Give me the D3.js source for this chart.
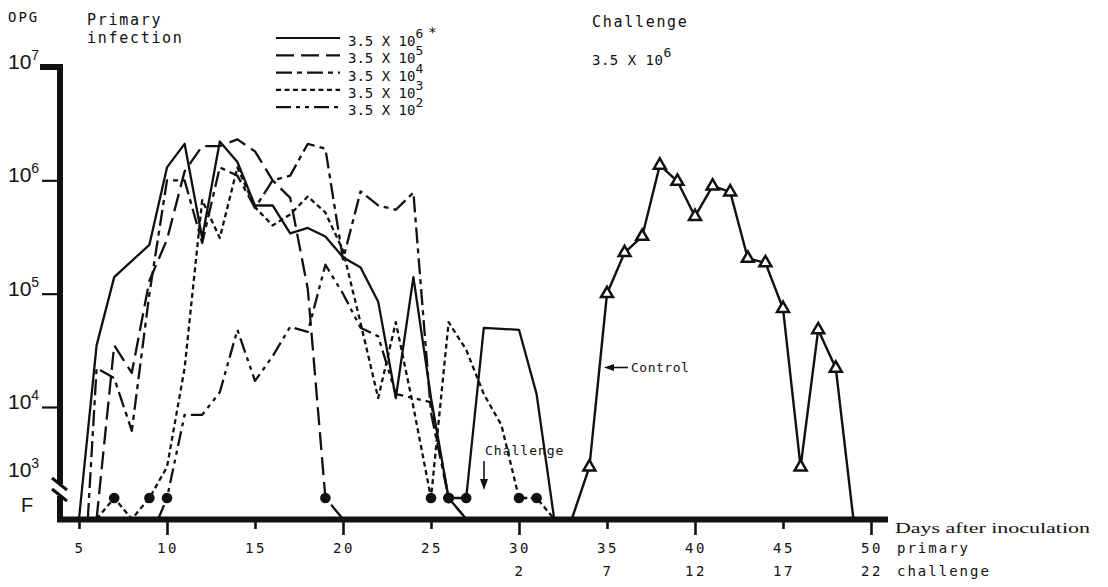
<!DOCTYPE html>
<html><head><meta charset="utf-8">
<script src="https://cdn.jsdelivr.net/npm/d3@7"></script>
<style>
html,body{margin:0;padding:0;background:#fff;}
svg{display:block;}
text{font-family:"DejaVu Sans Mono",monospace;fill:#111;}
</style></head>
<body>
<svg id="c" width="1108" height="587"></svg>
<script>
// ---- data ----
const Z = 1;   // nothing found (baseline)
const F = 10;  // found, below counting level
const primaryTicks = [5,10,15,20,25,30,35,40,45,50];
const challengeTicks = [30,35,40,45,50];
const challengeLabels = ["2","7","12","17","22"];
const yTickVals = [1e7,1e6,1e5,1e4,1e3];
const yTickExp = ["7","6","5","4","3"];
const doseExp = ["6","5","4","3","2"];

const s6Days = [5,6,7,9,10,11,12,13,14,15,16,17,18,19,20,21,22,23,24,25,26,27,28,30,31,32];
const s6Vals = [Z,3.5e4,1.4e5,2.7e5,1.3e6,2.1e6,3.1e5,2.2e6,1.45e6,6e5,6e5,3.4e5,3.8e5,3.2e5,2.1e5,1.7e5,8.5e4,1.2e4,1.4e5,1.2e4,F,F,5e4,4.8e4,1.3e4,Z];

const s5Days = [6,7,8,9,10,11,12,13,14,15,16,17,18,19,20];
const s5Vals = [Z,3.5e4,2e4,1.3e5,3e5,1.2e6,2e6,2e6,2.3e6,1.8e6,1e6,7e5,1.1e5,F,Z];

const s4Days = [5.5,6,7,8,9,10,11,12,13,14,15,16,17,18,19,20,21,22,23,24,25,26,27];
const s4Vals = [Z,2.2e4,1.8e4,4e3,1e5,1e6,1e6,2.8e5,1.3e6,1.1e6,5.7e5,1e6,1.1e6,2.1e6,1.9e6,2e5,8e5,6e5,5.5e5,7.8e5,8e3,F,Z];

const s3Days = [6,7,8,9,10,11,12,13,14,15,16,17,18,19,20,21,22,23,24,25,26,27,28,29,30,31,32];
const s3Vals = [Z,F,Z,F,1e3,2.2e4,6.7e5,3.1e5,1.3e6,5.8e5,4e5,5e5,7.2e5,5.2e5,2.4e5,5.5e4,1.2e4,5.6e4,1e4,F,5.6e4,3.2e4,1.3e4,5e3,F,F,Z];

const s2Days = [9.5,10,11,12,13,14,15,16,17,18,19,20,21,22,23,24,25,26,27];
const s2Vals = [Z,F,7.4e3,7.4e3,1.35e4,4.8e4,1.7e4,2.8e4,5.1e4,4.6e4,1.8e5,1e5,5e4,4.2e4,1.3e4,1.2e4,1.1e4,F,Z];

const ctrlDays = [33,34,35,36,37,38,39,40,41,42,43,44,45,46,47,48,49];
const ctrlVals = [Z,1e3,1e5,2.3e5,3.2e5,1.36e6,9.8e5,4.8e5,8.9e5,7.9e5,2.05e5,1.87e5,7.4e4,1e3,4.8e4,2.2e4,Z];

// ---- drawing ----
const svg = d3.select("#c");
const x = d3.scaleLinear().domain([5,50]).range([79,871]);
const y = d3.scaleLog().domain([Z,F,1e3,1e4,1e7]).range([519,498,467,407,67]);

const styles = [
  {days:s6Days, vals:s6Vals, dash:null},
  {days:s5Days, vals:s5Vals, dash:"18,7"},
  {days:s4Days, vals:s4Vals, dash:"16,5,5,5"},
  {days:s3Days, vals:s3Vals, dash:"5,3.5"},
  {days:s2Days, vals:s2Vals, dash:"15,5,4,5,4,5"}
];

const line = d3.line().x(d=>x(d[0])).y(d=>y(d[1]));

styles.forEach(s=>{
  const pts = s.days.map((d,i)=>[d,s.vals[i]]);
  svg.append("path").attr("d",line(pts)).attr("fill","none")
    .attr("stroke","#111").attr("stroke-width",2.3).attr("stroke-linejoin","round")
    .attr("stroke-dasharray",s.dash);
  pts.filter(p=>p[1]===F).forEach(p=>{
    svg.append("circle").attr("cx",x(p[0])).attr("cy",y(p[1])).attr("r",5.3).attr("fill","#111");
  });
});

// control
const cpts = ctrlDays.map((d,i)=>[d,ctrlVals[i]]);
svg.append("path").attr("d",line(cpts)).attr("fill","none").attr("stroke","#111").attr("stroke-width",2.4);
const tri = d3.symbol().type(d3.symbolTriangle).size(62);
cpts.filter(p=>p[1]>Z).forEach(p=>{
  svg.append("path").attr("d",tri()).attr("transform",`translate(${x(p[0])},${y(p[1])})`)
    .attr("fill","#fff").attr("stroke","#111").attr("stroke-width",2.5);
});

// x axis
const xAxis = d3.axisBottom(x).tickValues(primaryTicks).tickSize(14).tickFormat("");
const gx = svg.append("g").attr("transform","translate(0,519)").call(xAxis);
gx.select(".domain").remove();
gx.selectAll(".tick line").attr("stroke","#111").attr("stroke-width",2.6)
  .attr("y2",d=> d%10===0 ? 16 : 10);
svg.append("line").attr("x1",57).attr("x2",888).attr("y1",519.5).attr("y2",519.5)
  .attr("stroke","#111").attr("stroke-width",6);
primaryTicks.forEach(t=>{
  svg.append("text").attr("x",x(t)+1).attr("y",553).attr("text-anchor","middle")
    .attr("font-size",14).attr("letter-spacing",2.5).text(t);
});
challengeTicks.forEach((t,i)=>{
  svg.append("text").attr("x",x(t)+1).attr("y",576).attr("text-anchor","middle")
    .attr("font-size",14).attr("letter-spacing",2.5).text(challengeLabels[i]);
});
svg.append("text").attr("x",895).attr("y",533).attr("font-size",15)
  .attr("textLength",195).attr("lengthAdjust","spacingAndGlyphs")
  .style("font-family","Liberation Serif, serif").text("Days after inoculation");
svg.append("text").attr("x",897).attr("y",553).attr("font-size",14).attr("letter-spacing",2).text("primary");
svg.append("text").attr("x",897).attr("y",576).attr("font-size",14).attr("letter-spacing",2).text("challenge");

// y axis
svg.append("path").attr("d","M40,67 L60,67 L60,522").attr("fill","none")
  .attr("stroke","#111").attr("stroke-width",6);
const yAxis = d3.axisLeft(y).tickValues([1e6,1e5,1e4]).tickSize(17).tickFormat("");
const gy = svg.append("g").attr("transform","translate(59,0)").call(yAxis);
gy.select(".domain").remove();
gy.selectAll(".tick line").attr("stroke","#111").attr("stroke-width",2.2);
// axis break
svg.append("rect").attr("x",54).attr("y",484).attr("width",12).attr("height",12).attr("fill","#fff");
svg.append("line").attr("x1",52).attr("y1",478).attr("x2",67).attr("y2",490).attr("stroke","#111").attr("stroke-width",3);
svg.append("line").attr("x1",52).attr("y1",489).attr("x2",67).attr("y2",501).attr("stroke","#111").attr("stroke-width",3);

yTickVals.forEach((v,i)=>{
  const t = svg.append("text").attr("x",8).attr("y",i===4 ? 477 : y(v)+2).attr("font-size",21)
    .style("font-family","Liberation Sans, sans-serif");
  t.append("tspan").text("10");
  t.append("tspan").attr("dy",-9).attr("font-size",14).text(yTickExp[i]);
});
svg.append("text").attr("x",21).attr("y",512).attr("font-size",20)
  .style("font-family","Liberation Sans, sans-serif").text("F");

// header texts
svg.append("text").attr("x",8).attr("y",22).attr("font-size",14).attr("letter-spacing",2).text("OPG");
svg.append("text").attr("x",87).attr("y",25).attr("font-size",15).attr("letter-spacing",1.7).text("Primary");
svg.append("text").attr("x",87).attr("y",43).attr("font-size",15).attr("letter-spacing",1.7).text("infection");
svg.append("text").attr("x",592).attr("y",27).attr("font-size",15).attr("letter-spacing",1.7).text("Challenge");
const ch = svg.append("text").attr("x",592).attr("y",65).attr("font-size",14).attr("letter-spacing",0.5);
ch.append("tspan").text("3.5 X 10");
ch.append("tspan").attr("dy",-8).attr("font-size",13).text("6");

// legend
styles.forEach((s,i)=>{
  const ly = 38 + i*17.3;
  svg.append("line").attr("x1",276).attr("x2",340).attr("y1",ly).attr("y2",ly)
    .attr("stroke","#111").attr("stroke-width",2.2).attr("stroke-dasharray",s.dash);
  const t = svg.append("text").attr("x",348).attr("y",ly+8).attr("font-size",14);
  t.append("tspan").text("3.5 X 10");
  t.append("tspan").attr("dy",-8).attr("font-size",13).text(doseExp[i]);
  if(i===0) t.append("tspan").attr("dx",5).attr("dy",-1).text("*");
});

// annotations
svg.append("text").attr("x",485).attr("y",455).attr("font-size",13).attr("letter-spacing",1).text("Challenge");
svg.append("line").attr("x1",484).attr("x2",484).attr("y1",461).attr("y2",482).attr("stroke","#111").attr("stroke-width",1.6);
svg.append("path").attr("d","M480,479 L484,490 L488,479 Z").attr("fill","#111");
svg.append("text").attr("x",631).attr("y",372).attr("font-size",13).attr("letter-spacing",0.5).text("Control");
svg.append("line").attr("x1",628).attr("x2",611).attr("y1",367.5).attr("y2",367.5).attr("stroke","#111").attr("stroke-width",1.6);
svg.append("path").attr("d","M604,367.5 L614,364 L614,371 Z").attr("fill","#111");
</script>
</body></html>
